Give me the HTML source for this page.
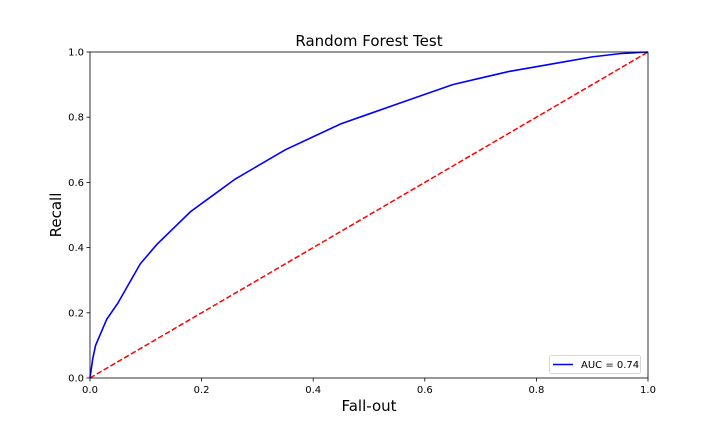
<!DOCTYPE html>
<html><head><meta charset="utf-8"><style>
body{margin:0;background:#fff;font-family:"Liberation Sans","DejaVu Sans",sans-serif}
svg text{font-family:"DejaVu Sans","Liberation Sans",sans-serif}
</style></head><body>
<svg id="chart" width="720" height="432" xmlns="http://www.w3.org/2000/svg">
<rect width="720" height="432" fill="#fff"/>
<g id="plot"></g>
</svg>
<script>
const fpr = [0,0.005,0.01,0.02,0.03,0.05,0.07,0.09,0.12,0.15,0.18,0.22,0.26,0.30,0.35,0.40,0.45,0.50,0.55,0.60,0.65,0.70,0.75,0.80,0.85,0.90,0.95,1.0];
const tpr = [0,0.06,0.10,0.14,0.18,0.23,0.29,0.35,0.41,0.46,0.51,0.56,0.61,0.65,0.70,0.74,0.78,0.81,0.84,0.87,0.90,0.92,0.94,0.955,0.97,0.985,0.995,1.0];
const xTicks = [0,0.2,0.4,0.6,0.8,1.0];
const yTicks = [0,0.2,0.4,0.6,0.8,1.0];
const aucLabel = "AUC = 0.74";

const X0=90,X1=648,Y0=378,Y1=52;
const sx=v=>X0+(X1-X0)*v, sy=v=>Y0-(Y0-Y1)*v;
const NS="http://www.w3.org/2000/svg";
const g=document.getElementById('plot');
function mk(tag,attrs,parent){const e=document.createElementNS(NS,tag);for(const k in attrs)e.setAttribute(k,attrs[k]);(parent||g).appendChild(e);return e;}

const diag=mk('line',{x1:sx(0),y1:sy(0),x2:sx(1),y2:sy(1),stroke:'#ff0000','stroke-width':1.5,'stroke-dasharray':'5.5,2.4'});



const curve=mk('polyline',{points:fpr.map((v,i)=>sx(v)+','+sy(tpr[i])).join(' '),fill:'none',stroke:'#0000ff','stroke-width':1.6});



const frame=mk('rect',{x:X0,y:Y1,width:X1-X0,height:Y0-Y1,fill:'none',stroke:'#000','stroke-width':0.8});



xTicks.forEach(t=>{
  const l=mk('line',{x1:sx(t),x2:sx(t),y1:Y0,y2:Y0+3.5,stroke:'#000','stroke-width':0.8});
  
  
  const tx=mk('text',{x:sx(t),y:Y0+15,'text-anchor':'middle','font-size':10,fill:'#000'});
  tx.textContent=t.toFixed(1);
  
  
});
yTicks.forEach(t=>{
  const l=mk('line',{x1:X0-3.5,x2:X0,y1:sy(t),y2:sy(t),stroke:'#000','stroke-width':0.8});
  
  
  const tx=mk('text',{x:X0-6,y:sy(t)+3.5,'text-anchor':'end','font-size':10,fill:'#000'});
  tx.textContent=t.toFixed(1);
  
  
});

const title=mk('text',{x:(X0+X1)/2,y:46,'text-anchor':'middle','font-size':15,fill:'#000'});
title.textContent='Random Forest Test';



const xl=mk('text',{x:(X0+X1)/2,y:411,'text-anchor':'middle','font-size':15,fill:'#000'});
xl.textContent='Fall-out';



const yl=mk('text',{x:0,y:0,'text-anchor':'middle','font-size':15,fill:'#000',transform:'translate(61,'+((Y0+Y1)/2)+') rotate(-90)'});
yl.textContent='Recall';



const leg=mk('g',{});


mk('rect',{x:549.5,y:355.5,width:91,height:18,rx:2,fill:'#fff',stroke:'#ccc','stroke-width':0.8},leg);
const ll=mk('line',{x1:553,x2:573,y1:364.5,y2:364.5,stroke:'#0000ff','stroke-width':1.6},leg);


const lt=mk('text',{x:581,y:368,'font-size':10,fill:'#000'},leg);
lt.textContent=aucLabel;


</script>
</body></html>
